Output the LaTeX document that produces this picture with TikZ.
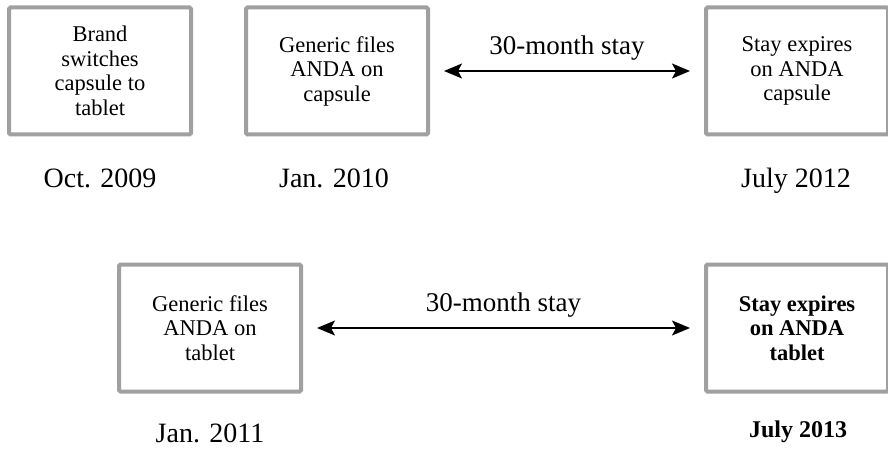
\documentclass[tikz,border=0pt]{standalone}
\usepackage{fontspec}
\setmainfont{Liberation Serif}
\usetikzlibrary{arrows.meta}
\definecolor{boxgray}{RGB}{160,160,160}
\tikzset{
  evbox/.style={draw=boxgray, line width=4pt, rounded corners=1.5pt, fill=white,
    minimum width=182pt, minimum height=127pt, inner sep=0pt,
    align=center, font=\fontsize{22.5}{24.5}\selectfont},
  datelbl/.style={font=\fontsize{28}{30}\selectfont, anchor=base, inner sep=0pt},
  staylbl/.style={font=\fontsize{27}{30}\selectfont, inner sep=0pt},
  stayarrow/.style={{Stealth[length=18pt,width=15pt,inset=4pt]}-{Stealth[length=18pt,width=15pt,inset=4pt]}, line width=1.6pt, shorten <=14pt, shorten >=14pt}
}
\begin{document}
\begin{tikzpicture}[x=1pt,y=-1pt]
\useasboundingbox (0,0) rectangle (888,449);
% row 1
\node[evbox] (b1) at (100,71) {Brand\\switches\\capsule to\\tablet};
\node[evbox] (b2) at (337,71) {Generic files\\ANDA on\\capsule};
\node[evbox] (b3) at (797,71) {Stay expires\\on ANDA\\capsule};
\draw[stayarrow] (b2.east) -- (b3.west) node[midway, staylbl, yshift=23pt] (s1) {30-month stay};
\node[datelbl] (d1) at (100,187) {Oct. 2009};
\node[datelbl] (d2) at (334,187) {Jan. 2010};
\node[datelbl] (d3) at (796,187) {July 2012};
% row 2
\node[evbox] (b4) at (210,328) {Generic files\\ANDA on\\tablet};
\node[evbox, font=\fontsize{22.5}{24.5}\selectfont\bfseries] (b5) at (797,328) {Stay expires\\on ANDA\\tablet};
\draw[stayarrow] (b4.east) -- (b5.west) node[midway, staylbl, yshift=23pt] (s2) {30-month stay};
\node[datelbl] (d4) at (210,442) {Jan. 2011};
\node[datelbl, font=\fontsize{24}{26}\selectfont\bfseries] (d5) at (798,437) {July 2013};
\end{tikzpicture}
\end{document}
